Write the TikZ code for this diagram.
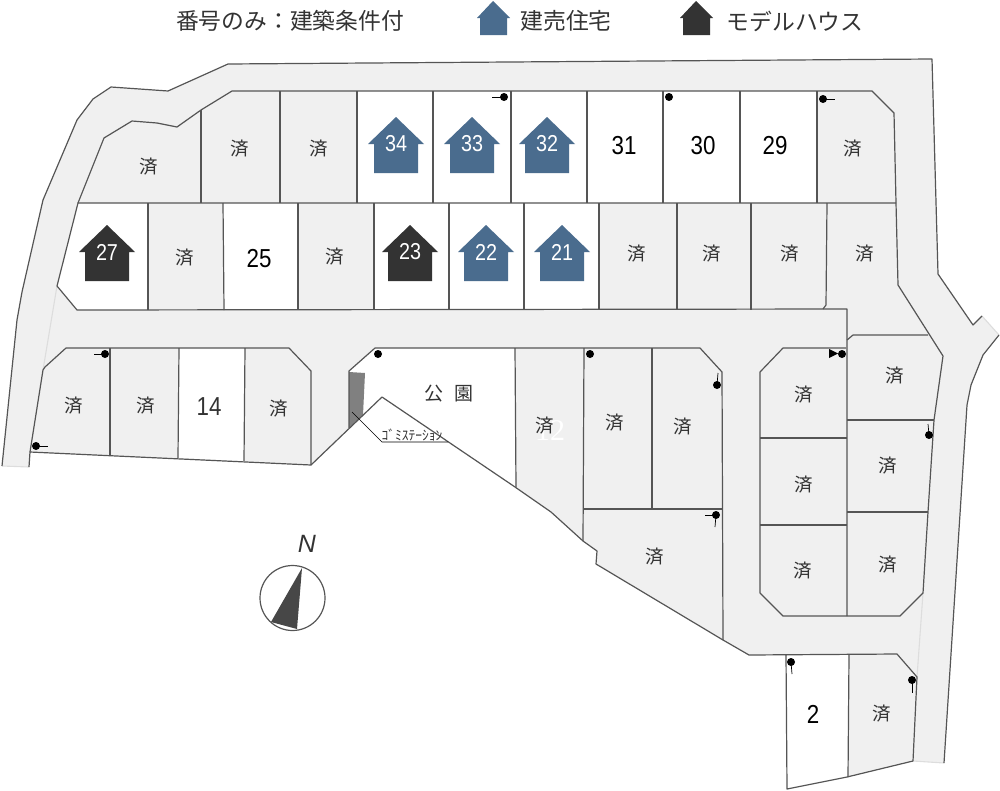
\documentclass[tikz,border=0pt]{standalone}
\usepackage{fontspec}
\usepackage{xcolor}
\usepackage{tikz}
\setmainfont{Liberation Sans}
\newfontfamily\jpfont{Noto Sans CJK JP}
\newfontfamily\numfont[FakeStretch=0.86]{Liberation Sans}
\definecolor{roadgray}{HTML}{F0F0F0}
\definecolor{joinlight}{HTML}{DDDDDD}
\definecolor{lotline}{HTML}{555555}
\definecolor{blueroof}{HTML}{4A6C8E}
\definecolor{darkroof}{HTML}{333333}
% house with its number: x of the apex, y of the apex, colour, number
\newcommand{\lothouse}[4]{
  \fill[#3] (#1,#2) -- ++(28,27) -- ++(-6,0) -- ++(0,29) -- ++(-44,0) -- ++(0,-29) -- ++(-6,0) -- cycle;
  \node[housenum] (house#4) at (#1,#2+27) {#4};
}

\begin{document}
\begin{tikzpicture}[
    x=1pt, y=-1pt,
    lot/.style={draw=lotline, line width=1.2pt, line join=round},
    joint/.style={draw=joinlight, line width=1.1pt},
    thinline/.style={draw=black, line width=0.7pt},
    pin/.style={circle, fill=black, inner sep=0pt, minimum size=8pt},
    sold/.style={text=darkroof, font=\jpfont\fontsize{18.5}{18.5}\selectfont, inner sep=0pt, yshift=-1pt},
    lotnum/.style={text=black, font=\numfont\fontsize{26}{26}\selectfont, inner sep=0pt},
    housenum/.style={text=white, font=\numfont\fontsize{23}{23}\selectfont, inner sep=0pt},
    legend/.style={text=darkroof, font=\jpfont\fontsize{22.8}{23}\selectfont, inner sep=0pt}
]
\useasboundingbox (0,0) rectangle (1000,790);

% ground: road and sold lots share one grey
\fill[roadgray] (2,466) -- (17,320) -- (22,292) -- (43,200) -- (77,120) -- (93,99) -- (111,87) -- (168,91) -- (228,64)
  -- (932,59) -- (938,274) -- (973,325) -- (982,316) -- (999,335) -- (983,355) -- (971,385) -- (967,405) -- (944,763)
  -- (913,761) -- (847,777) -- (787,789) -- (786,655) -- (749,655) -- (723,640) -- (596,564) -- (597,551) -- (583,541)
  -- (551,512) -- (515,487) -- (382,397) -- (311,465) -- (30,452) -- (29,467) -- cycle;

% lots still open
\fill[white] (357,91) rectangle (817,203);
\fill[white] (78,203) -- (148,203) -- (148,310) -- (77,310) -- (57,286) -- cycle;
\fill[white] (223,203) rectangle (298,310);
\fill[white] (374,203) rectangle (599,310);
\fill[white] (179,348) -- (245,348) -- (244,461) -- (178,458) -- cycle;
\fill[white] (349,371) -- (375,348) -- (515,348) -- (515,487) -- (382,397) -- (349,430) -- cycle;
\fill[white] (786,655) -- (849,655) -- (848,777) -- (787,789) -- cycle;
\fill[gray] (349,372) -- (365,373) -- (363,415) -- (349,428) -- cycle;

% light joints of the road
\draw[joint] (57,286) -- (43,370);
\draw[joint] (923,593) -- (917,677);
\draw[joint] (913,761) -- (944,763);
\draw[joint] (2,466) -- (29,467);
\draw[joint] (982,316) -- (999,335);

% outer edge
\draw[lot] (2,466) -- (17,320) -- (22,292) -- (43,200) -- (77,120) -- (93,99) -- (111,87) -- (168,91) -- (228,64)
  -- (932,59) -- (938,274) -- (973,325) -- (982,316);
\draw[lot] (999,335) -- (983,355) -- (971,385) -- (967,405) -- (944,763);
\draw[lot] (29,467) -- (30,452) -- (311,465) -- (382,397) -- (515,487) -- (551,512) -- (583,541) -- (597,551) -- (596,564)
  -- (723,640) -- (749,655) -- (897,654) -- (917,677) -- (913,761) -- (847,777) -- (787,789) -- (786,655);

% upper block
\draw[lot] (78,203) -- (104,138) -- (132,121) -- (157,123) -- (177,127) -- (201,110) -- (232,91) -- (872,91) -- (894,113)
  -- (896,203) -- (898,285) -- (943,356) -- (934,420) -- (928,512) -- (923,593) -- (900,616) -- (783,616) -- (760,593)
  -- (760,372) -- (783,348) -- (846,348);
\draw[lot] (896,203) -- (78,203) -- (57,286) -- (77,310) -- (847,309) -- (847,616);
\draw[lot] (847,340) -- (853,335) -- (928,335);
\draw[lot] (201,110) -- (201,203);
\draw[lot] (280,91) -- (280,203);
\draw[lot] (357,91) -- (357,203);
\draw[lot] (433,91) -- (433,203);
\draw[lot] (511,91) -- (511,203);
\draw[lot] (587,91) -- (587,203);
\draw[lot] (663,91) -- (663,203);
\draw[lot] (740,91) -- (740,203);
\draw[lot] (817,91) -- (817,203);
\draw[lot] (148,203) -- (148,310);
\draw[lot] (223,203) -- (224,310);
\draw[lot] (298,203) -- (298,310);
\draw[lot] (374,203) -- (374,310);
\draw[lot] (449,203) -- (449,310);
\draw[lot] (524,203) -- (524,310);
\draw[lot] (599,203) -- (599,310);
\draw[lot] (677,203) -- (677,310);
\draw[lot] (751,203) -- (751,310);
\draw[lot] (827,203) -- (826,305) -- (823,309);

% lower left block
\draw[lot] (30,452) -- (43,370) -- (45,367) -- (66,348) -- (289,348) -- (311,371) -- (311,465);
\draw[lot] (110,348) -- (110,455);
\draw[lot] (179,348) -- (178,458);
\draw[lot] (245,348) -- (244,461);

% park block
\draw[lot] (349,428) -- (349,371) -- (375,348) -- (700,348) -- (722,372) -- (723,640);
\draw[lot] (515,348) -- (516,487);
\draw[lot] (584,348) -- (583,541);
\draw[lot] (652,348) -- (652,509);
\draw[lot] (584,509) -- (722,509);
\draw[thinline] (352,412) -- (382,442) -- (448,442);

% right block
\draw[lot] (760,438) -- (847,438);
\draw[lot] (760,525) -- (847,525);
\draw[lot] (847,420) -- (934,420);
\draw[lot] (847,512) -- (928,512);
\draw[lot] (849,655) -- (848,777);

% water pins
\node[pin] (p1) at (504,97) {};
\draw[thinline] (p1.center) -- ++(-12,0);
\node[pin] (p2) at (669,97) {};
\node[pin] (p3) at (823,99) {};
\draw[thinline] (p3.center) -- ++(12,0);
\node[pin] (p4) at (105,354) {};
\draw[thinline] (p4.center) -- ++(-11,0);
\node[pin] (p5) at (36,446) {};
\draw[thinline] (p5.center) -- ++(12,0);
\node[pin] (p6) at (378,354) {};
\node[pin] (p7) at (590,354) {};
\node[pin] (p8) at (717,385) {};
\draw[thinline] (p8.center) -- ++(1,-12);
\node[pin] (p9) at (716,515) {};
\draw[thinline] (p9.center) -- ++(-11,0);
\draw[thinline] (p9.center) -- ++(-1,12);
\node[pin] (p10) at (842,354) {};
\fill[black] (829,349) -- (838,353.5) -- (829,358) -- cycle;
\node[pin] (p11) at (929,435) {};
\draw[thinline] (p11.center) -- ++(-1,-11);
\node[pin] (p12) at (791,662) {};
\draw[thinline] (p12.center) -- ++(1,12);
\node[pin] (p13) at (912,680) {};
\draw[thinline] (p13.center) -- ++(0,13);

% houses
\lothouse{396}{117}{blueroof}{34}
\lothouse{472}{117}{blueroof}{33}
\lothouse{547}{117}{blueroof}{32}
\lothouse{107}{225}{darkroof}{27}
\lothouse{410}{225}{darkroof}{23}
\lothouse{486}{225}{blueroof}{22}
\lothouse{562}{225}{blueroof}{21}

% plain lot numbers
\node[lotnum] (n31) at (624,146) {31};
\node[lotnum] (n30) at (703,146) {30};
\node[lotnum] (n29) at (775,146) {29};
\node[lotnum] (n25) at (259,259) {25};
\node[lotnum, text=darkroof] (n14) at (209,407) {14};
\node[lotnum] (n2) at (813,714) {2};
\node[text=white, font=\fontspec{Liberation Serif}\fontsize{30}{30}\selectfont, inner sep=0pt] (n12) at (550,431) {12};

% sold lots
\node[sold] (s1) at (149,166) {済};
\node[sold] (s2) at (240,148) {済};
\node[sold] (s3) at (319,148) {済};
\node[sold] (s4) at (853,148) {済};
\node[sold] (s5) at (185,257) {済};
\node[sold] (s6) at (335,256) {済};
\node[sold] (s7) at (637,253) {済};
\node[sold] (s8) at (712,253) {済};
\node[sold] (s9) at (790,253) {済};
\node[sold] (s10) at (865,253) {済};
\node[sold] (s11) at (74,405) {済};
\node[sold] (s12) at (146,405) {済};
\node[sold] (s13) at (279,408) {済};
\node[sold] (s14) at (545,425) {済};
\node[sold] (s15) at (615,422) {済};
\node[sold] (s16) at (683,426) {済};
\node[sold] (s17) at (804,394) {済};
\node[sold] (s18) at (895,375) {済};
\node[sold] (s19) at (888,465) {済};
\node[sold] (s20) at (804,484) {済};
\node[sold] (s21) at (803,570) {済};
\node[sold] (s22) at (888,564) {済};
\node[sold] (s23) at (655,556) {済};
\node[sold] (s24) at (882,713) {済};

% park
\node[sold, font=\jpfont\fontsize{19}{19}\selectfont] (park) at (449,393) {公\hspace{11pt}園};
\node[sold, font=\jpfont\fontsize{13.5}{13.5}\selectfont] (station) at (412,434) {ｺﾞﾐｽﾃｰｼｮﾝ};

% north mark
\node[text=darkroof, font=\fontsize{25}{25}\selectfont\itshape, inner sep=0pt] (north) at (307,544) {N};
\draw[lot] (292.5,598) circle (32.5);
\fill[darkroof!90] (302,568) -- (271,622) -- (297,629) -- cycle;

% legend
\node[legend] (cond) at (290,21) {番号のみ：建築条件付};
\fill[blueroof] (493,1) -- ++(17,17) -- ++(-3,0) -- ++(0,17) -- ++(-27,0) -- ++(0,-17) -- ++(-3,0) -- cycle;
\node[legend] (ready) at (566,21) {建売住宅};
\fill[darkroof] (696,1) -- ++(17,17) -- ++(-3,0) -- ++(0,17) -- ++(-27,0) -- ++(0,-17) -- ++(-3,0) -- cycle;
\node[legend] (model) at (795,21) {モデルハウス};

\end{tikzpicture}
\end{document}
